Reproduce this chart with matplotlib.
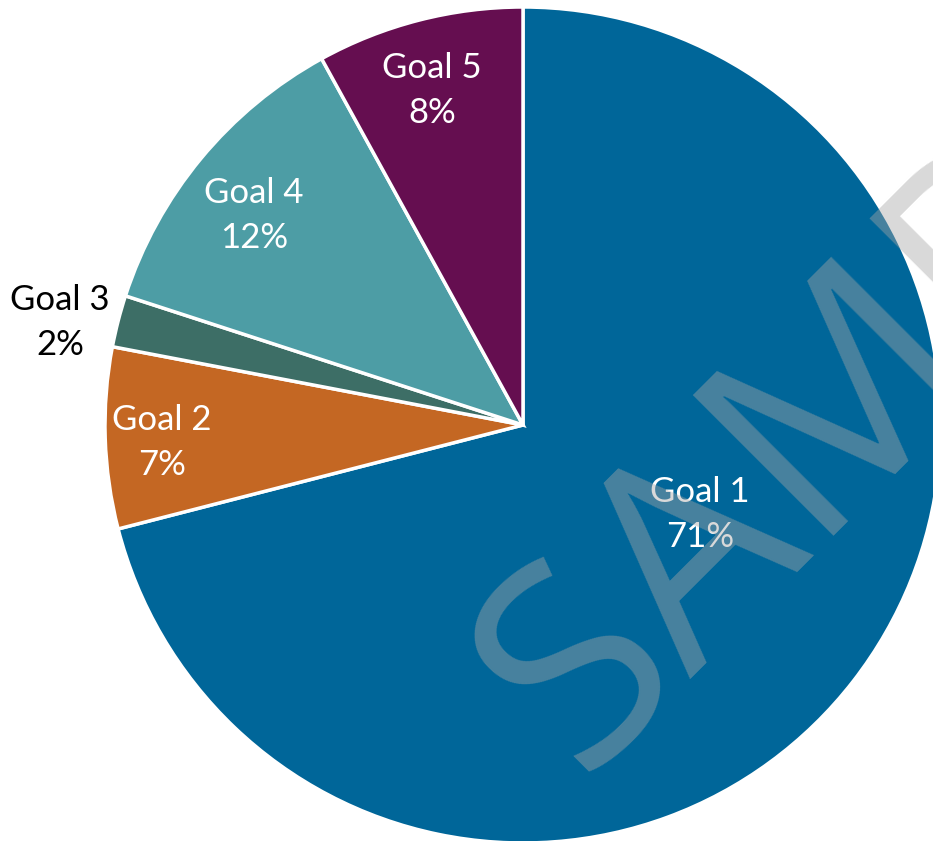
import matplotlib.pyplot as plt

goals = ['Goal 1', 'Goal 2', 'Goal 3', 'Goal 4', 'Goal 5']
shares = [71, 7, 2, 12, 8]
colors = ['#006699', '#C46723', '#3D6E66', '#4D9DA5', '#650E50']
text_colors = ['white', 'white', 'black', 'white', 'white']

# label centres (x, y) in units of the radius
label_pos = [(0.423, -0.215), (-0.864, -0.043), (-1.108, 0.246),
             (-0.644, 0.502), (-0.218, 0.801)]

plt.rcParams['font.family'] = ['Lato', 'DejaVu Sans']

fig = plt.figure(figsize=(9.33, 8.41), dpi=100)
ax = fig.add_axes([0, 0, 1, 1])

R = 418.0
cx, cy = 523.0, 425.0
W, H = 933.0, 841.0

ax.pie(shares, colors=colors, startangle=90, counterclock=False,
       radius=1, center=(0, 0),
       wedgeprops=dict(edgecolor='white', linewidth=2.5))

for name, val, (x, y), tc in zip(goals, shares, label_pos, text_colors):
    ax.text(x, y, f'{name}\n{val}%', ha='center', va='center',
            color=tc, fontsize=25, linespacing=1.5)

# watermark
ax.text((580 - cx) / R, -(776 - cy) / R, 'SAMPLE', rotation=45,
        rotation_mode='anchor', ha='left', va='baseline', fontsize=200,
        family=['Open Sans', 'DejaVu Sans'],
        color='#a7a7a7', alpha=0.43, zorder=5)

ax.set_xlim(-cx / R, (W - cx) / R)
ax.set_ylim(-(H - cy) / R, cy / R)
ax.set_aspect('auto')
ax.axis('off')

plt.savefig('out.png', dpi=100)
